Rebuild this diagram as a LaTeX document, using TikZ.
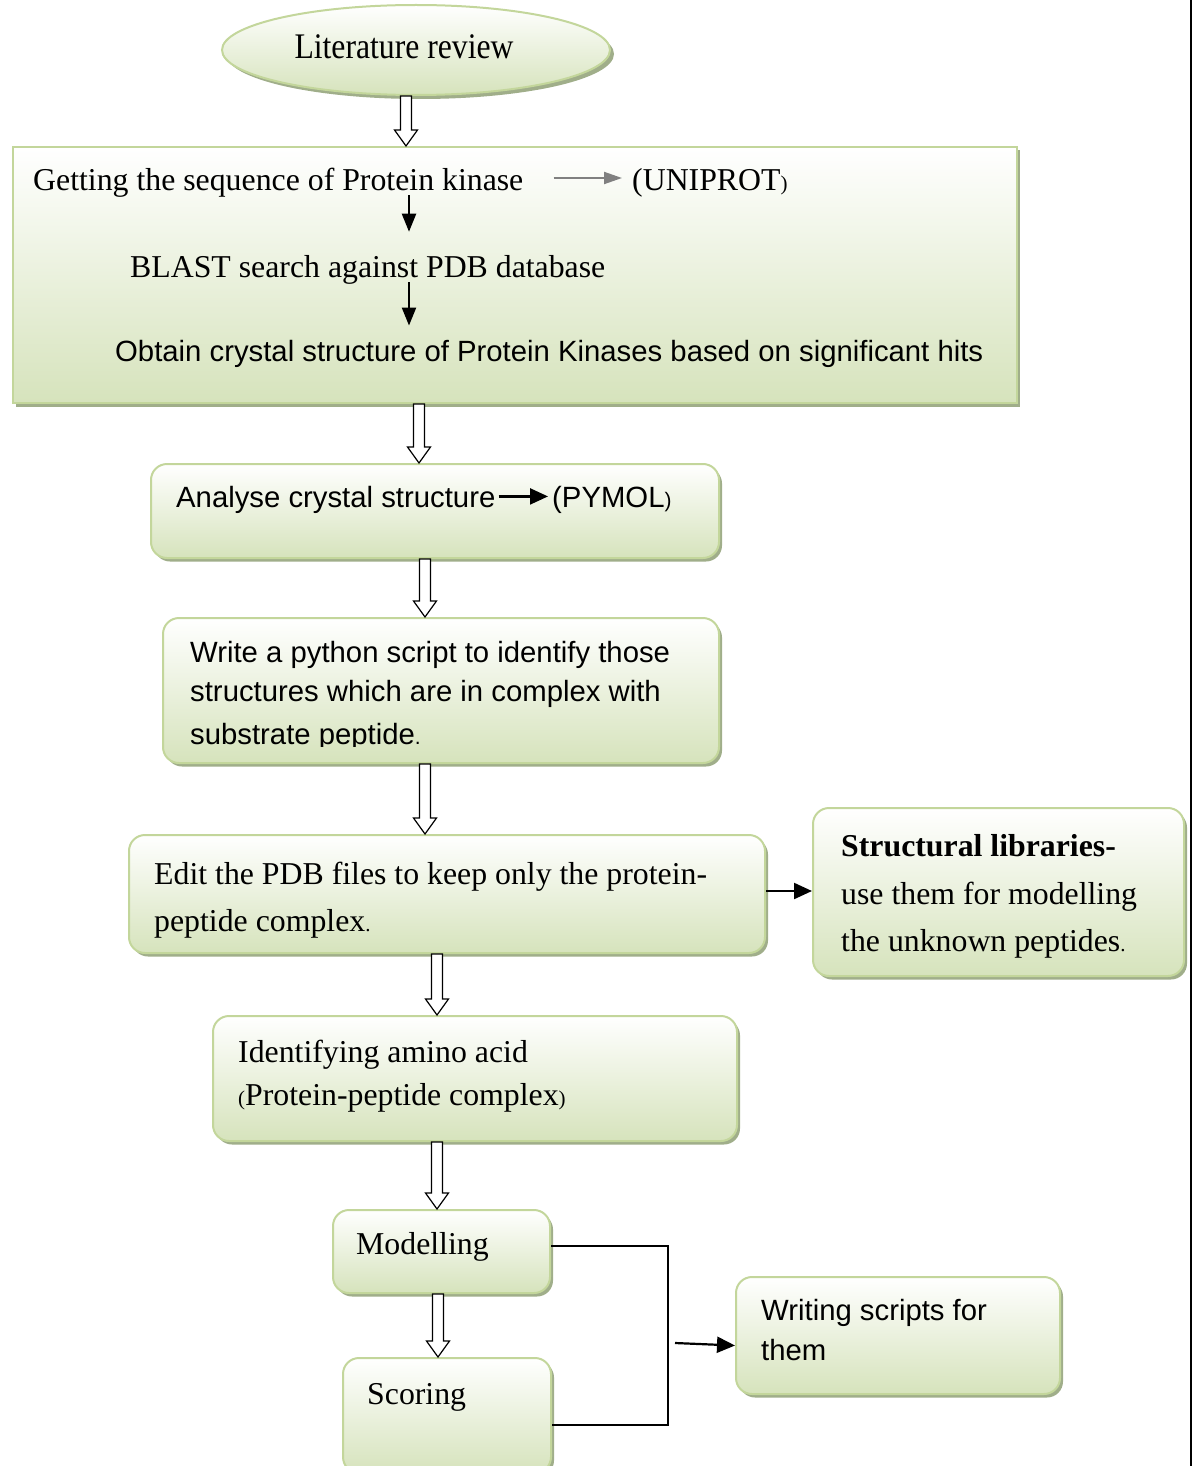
\documentclass[tikz,border=0pt]{standalone}
\usepackage{fontspec}
\setmainfont{Liberation Serif}
\newfontfamily\arialf{Liberation Sans}
\newfontfamily\litfont{Liberation Serif}[FakeStretch=0.88]
\usetikzlibrary{shapes.geometric,shadows,arrows.meta,calc}
\definecolor{bxgreen}{HTML}{D6E3BC}
\definecolor{bxborder}{HTML}{C3D69B}
\definecolor{bxshadow}{HTML}{A0AE8A}
\newcommand\tms{\fontsize{31.8}{38}\selectfont}
\newcommand\ari{\arialf\fontsize{29.3}{35}\selectfont}
\newcommand\smp[1]{{\fontsize{21}{21}\selectfont #1}}
\begin{document}
\begin{tikzpicture}[x=1pt,y=-1pt,
  boxbase/.style={draw=bxborder, line width=2pt, top color=white, bottom color=bxgreen,
    drop shadow={shadow xshift=3pt,shadow yshift=-3.5pt,fill=bxshadow,opacity=1},
    inner sep=0pt, anchor=north west},
  sqbox/.style={boxbase},
  rbox/.style={boxbase, rounded corners=16pt},
  txt/.style={inner sep=0pt, anchor=base west, font=\tms},
  atxt/.style={inner sep=0pt, anchor=base west, font=\ari},
  harrow/.style={draw=black, fill=white, line width=1.2pt,
    to path={let \p1=(\tikztostart), \p2=(\tikztotarget) in
      (\x1-5.5pt,\y1) -- (\x1-5.5pt,\y2+16pt) -- (\x1-11.5pt,\y2+16pt) -- (\x1,\y2)
      -- (\x1+11.5pt,\y2+16pt) -- (\x1+5.5pt,\y2+16pt) -- (\x1+5.5pt,\y1) -- cycle}},
  blkarr/.style={draw=black, line width=2.2pt, -{Triangle[width=16pt,length=18pt]}},
  inarr/.style={draw=black, line width=2.2pt, -{Triangle[width=14pt,length=18pt]}},
  gryarr/.style={draw=gray, line width=2pt, -{Triangle[width=12pt,length=18pt]}},
  conn/.style={draw=black, line width=1.6pt}
]
\useasboundingbox (0,0) rectangle (1193,1466);

% ellipse
\node[ellipse, draw=bxborder, line width=2pt, top color=white, bottom color=bxgreen,
  drop shadow={shadow xshift=4pt,shadow yshift=-4pt,fill=bxshadow,opacity=1},
  minimum width=388pt, minimum height=90pt, inner sep=0pt] (lit) at (416,50) {};
\node[inner sep=0pt, anchor=base, font=\litfont\fontsize{36}{40}\selectfont] (littext) at (404,59) {Literature review};

% boxes
\node[sqbox, minimum width=1004pt, minimum height=256pt] (b1) at (12,146) {};
\node[rbox, minimum width=568pt, minimum height=94pt] (ana) at (150,463) {};
\node[rbox, minimum width=556pt, minimum height=145pt] (wri) at (162,617) {};
\node[rbox, minimum width=636pt, minimum height=118pt] (edi) at (128,834) {};
\node[rbox, minimum width=371pt, minimum height=168pt] (str) at (812,807) {};
\node[rbox, minimum width=524pt, minimum height=125pt] (ide) at (212,1015) {};
\node[rbox, minimum width=217pt, minimum height=83pt] (mod) at (332,1209) {};
\node[rbox, minimum width=208pt, minimum height=115pt] (sco) at (342,1357) {};
\node[rbox, minimum width=324pt, minimum height=117pt] (wrs) at (735,1276) {};

% texts in big box
\node[txt] (get) at (33,191) {Getting the sequence of Protein kinase};
\node[txt] (uni) at (632,191) {(UNIPROT\smp{)}};
\node[txt] (blast) at (130,277) {BLAST search against PDB database};
\node[atxt] (obt) at (115,361) {Obtain crystal structure of Protein Kinases based on significant hits};

% analyse
\node[atxt] (anat) at (176,507) {Analyse crystal structure};
\node[atxt] (pym) at (552,507) {(PYMOL\smp{)}};

% write
\node[atxt] (wr1) at (190,662) {Write a python script to identify those};
\node[atxt] (wr2) at (190,701) {structures which are in complex with};
\begin{scope}
\clip (150,705) rectangle (720,746);
\node[atxt] (wr3) at (190,744) {substrate peptide\smp{.}};
\end{scope}

% edit
\node[txt] (ed1) at (154,884) {Edit the PDB files to keep only the protein-};
\node[txt] (ed2) at (154,931) {peptide complex\smp{.}};

% structural
\node[txt] (st1) at (841,856) {\bfseries Structural libraries-};
\node[txt] (st2) at (841,904) {use them for modelling};
\node[txt] (st3) at (841,951) {the unknown peptides\smp{.}};

% identifying
\node[txt] (id1) at (238,1062) {Identifying amino acid};
\node[txt] (id2) at (238,1105) {\smp{(}Protein-peptide complex\smp{)}};

% modelling, scoring, writing
\node[txt] (modt) at (356,1254) {Modelling};
\node[txt] (scot) at (367,1404) {Scoring};
\node[atxt] (ws1) at (761,1320) {Writing scripts for};
\node[atxt] (ws2) at (761,1360) {them};

% coordinates
\coordinate (ya) at (0,178);
\coordinate (cx) at (409,0);
\coordinate (h1) at (406,0);
\coordinate (h2) at (419,0);
\coordinate (h3) at (425,0);
\coordinate (h4) at (425,0);
\coordinate (h5) at (437,0);
\coordinate (h6) at (437,0);
\coordinate (h7) at (438,0);
\coordinate (jx) at (668,1425);
\coordinate (wstart) at (675,1343);

% hollow arrows
\path[harrow] (lit.south -| h1) to (b1.north -| h1);
\path[harrow] (b1.south -| h2) to (ana.north -| h2);
\path[harrow] (ana.south -| h3) to (wri.north -| h3);
\path[harrow] (wri.south -| h4) to (edi.north -| h4);
\path[harrow] (edi.south -| h5) to (ide.north -| h5);
\path[harrow] (ide.south -| h6) to (mod.north -| h6);
\path[harrow] (mod.south -| h7) to (sco.north -| h7);

% arrows
\draw[gryarr, shorten <=30pt, shorten >=10pt] (get.east |- ya) -- (uni.west |- ya);
\draw[inarr, shorten <=-3pt, shorten >=23pt] (get.south -| cx) -- (blast.north -| cx);
\draw[inarr, shorten <=-2pt, shorten >=14pt] (blast.south -| cx) -- (obt.north -| cx);
\draw[blkarr, shorten <=3pt, shorten >=4pt] ([yshift=3pt]anat.east) -- ([yshift=3pt]anat.east -| pym.west);
\draw[blkarr] ([yshift=3pt]edi.east) -- ([yshift=3pt]edi.east -| str.west);
\draw[conn] ([yshift=5.5pt]mod.east) -| (jx) -- (jx -| sco.east);
\draw[blkarr] (wstart) -- ([yshift=-10pt]wrs.west);

% right edge line
\draw[line width=2pt] (1191,0) -- (1191,1466);
\end{tikzpicture}
\end{document}
